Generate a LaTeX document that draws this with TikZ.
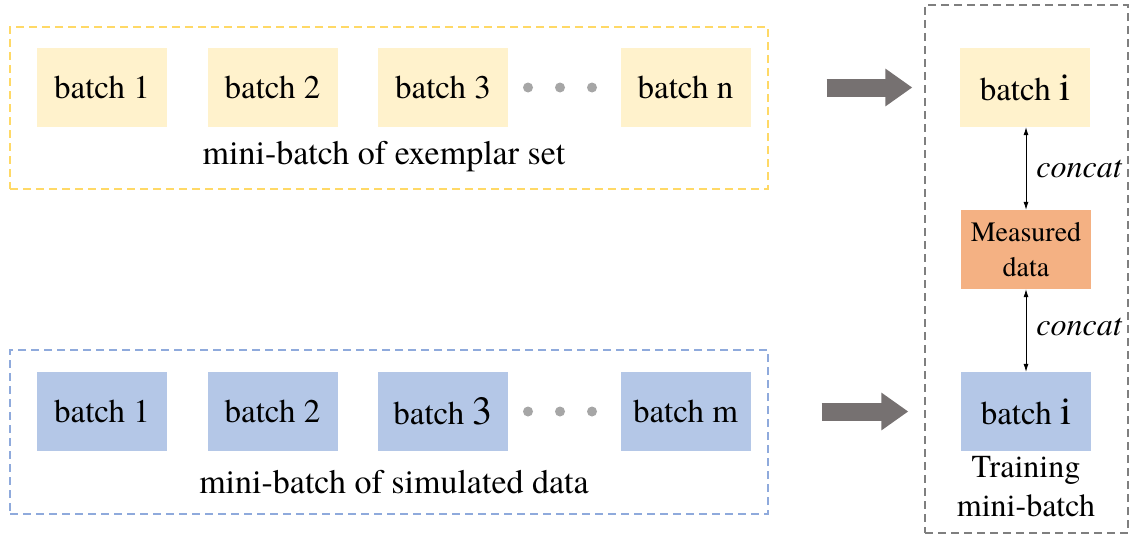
\documentclass[tikz,border=0pt]{standalone}
\usepackage{fontspec}
\IfFontExistsTF{texgyretermes-regular.otf}{%
  \setmainfont{texgyretermes}[Extension=.otf, UprightFont=*-regular,
    ItalicFont=*-italic, BoldFont=*-bold, BoldItalicFont=*-bolditalic]%
}{%
  \setmainfont{Liberation Serif}%
}
\usetikzlibrary{arrows.meta,positioning}
\definecolor{exfill}{HTML}{FFF2CC}
\definecolor{exline}{HTML}{FFD966}
\definecolor{simfill}{HTML}{B4C7E7}
\definecolor{simline}{HTML}{8FAADC}
\definecolor{measfill}{HTML}{F4B183}
\definecolor{frameline}{HTML}{7F7F7F}
\definecolor{arrowgray}{HTML}{767171}
\definecolor{dotgray}{HTML}{A6A6A6}
\newcommand{\bigglyph}[1]{{\fontsize{40}{40}\selectfont #1}}

\begin{document}
\begin{tikzpicture}[
  x=1pt, y=-1pt,
  font=\fontsize{33}{38}\selectfont,
  batchbox/.style={
    minimum width=130pt,
    minimum height=79pt,
    inner sep=0pt,
    align=center
  },
  exbatch/.style={batchbox, fill=exfill},
  simbatch/.style={batchbox, fill=simfill},
  grouplabel/.style={font=\fontsize{34}{40}\selectfont},
  groupframe/.style={
    line width=1.4pt,
    dash pattern=on 8pt off 5pt,
    inner sep=0pt
  },
  bigarrow/.style={
    draw=arrowgray,
    line width=18pt,
    -{Triangle[length=27pt,width=36pt]}
  },
  concatarrow/.style={
    line width=0.8pt,
    {Latex[length=8pt,width=5pt]}-{Latex[length=8pt,width=5pt]}
  }
]
  \useasboundingbox (0,0) rectangle (1131,538);

  % Dashed group frames
  \node[groupframe, draw=exline, minimum width=758pt, minimum height=162pt] (exframe) at (389,108) {};
  \node[groupframe, draw=simline, minimum width=758pt, minimum height=164pt] (simframe) at (389,432) {};
  \node[groupframe, draw=frameline, minimum width=203pt, minimum height=528pt] (trainframe) at (1026.5,269) {};

  % Exemplar set mini-batches
  \node[exbatch] (ex1) at (102,87.5) {batch 1};
  \node[exbatch] (ex2) at (272.5,87.5) {batch 2};
  \node[exbatch] (ex3) at (443,87.5) {batch 3};
  \node[exbatch] (exn) at (685.5,87.5) {batch n};
  \node[grouplabel] (exlabel) at (384,157) {mini-batch of exemplar set};

  % Simulated data mini-batches
  \node[simbatch] (sim1) at (102,411.5) {batch 1};
  \node[simbatch] (sim2) at (272.5,411.5) {batch 2};
  \node[simbatch] (sim3) at (443,411.5) {batch \bigglyph{3}};
  \node[simbatch] (simm) at (685.5,411.5) {batch m};
  \node[grouplabel] (simlabel) at (394,482) {mini-batch of simulated data};

  % Ellipsis dots
  \foreach \dx in {528,560,592} {
    \fill[dotgray] (\dx,87.5) circle (5pt);
    \fill[dotgray] (\dx,411.5) circle (5pt);
  }

  % Training mini-batch
  \node[exbatch] (trainex) at (1025,87.5) {batch \bigglyph{i}};
  \node[batchbox, fill=measfill, font=\fontsize{28}{35}\selectfont] (meas) at (1026,249.5) {Measured\\data};
  \node[simbatch] (trainsim) at (1026,411.5) {batch \bigglyph{i}};
  \node[align=center, below=2pt of trainsim, font=\fontsize{32}{39}\selectfont] (trainlabel) {Training\\mini-batch};

  \draw[concatarrow] (trainex.south -| meas) -- (meas.north)
    node[midway, right, inner sep=0pt, xshift=10pt, font=\fontsize{32}{38}\selectfont\itshape] {concat};
  \draw[concatarrow] (meas.south) -- (trainsim.north -| meas)
    node[midway, right, inner sep=0pt, xshift=10pt, yshift=4pt, font=\fontsize{32}{38}\selectfont\itshape] {concat};

  % Block arrows into the training frame
  \draw[bigarrow] ([xshift=58pt]exframe.east |- exn) -- ([xshift=-12pt]trainframe.west |- exn);
  \draw[bigarrow] ([xshift=53pt]simframe.east |- simm) -- ([xshift=-16pt]trainframe.west |- simm);

\end{tikzpicture}
\end{document}
